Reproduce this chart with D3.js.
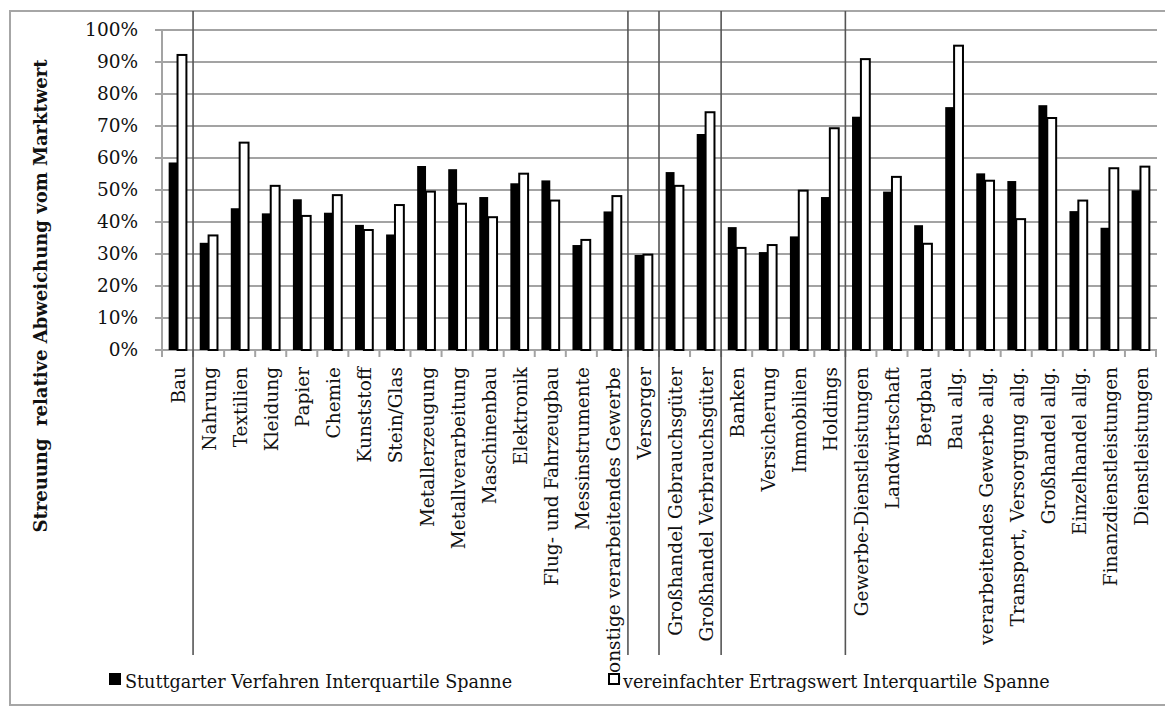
<!DOCTYPE html>
<html>
<head>
<meta charset="utf-8">
<script src="https://cdn.jsdelivr.net/npm/d3@7"></script>
<style>
  body { margin: 0; background: #fff; }
  svg { display: block; font-family: "DejaVu Serif", serif; }
</style>
</head>
<body>
<div id="container"></div>
<script>
// Branchen (Reihenfolge wie im Original)
const categories = [
  'Bau', 'Nahrung', 'Textilien', 'Kleidung', 'Papier', 'Chemie', 'Kunststoff',
  'Stein/Glas', 'Metallerzeugung', 'Metallverarbeitung', 'Maschinenbau',
  'Elektronik', 'Flug- und Fahrzeugbau', 'Messinstrumente',
  'sonstige verarbeitendes Gewerbe', 'Versorger', 'Großhandel Gebrauchsgüter',
  'Großhandel Verbrauchsgüter', 'Banken', 'Versicherung', 'Immobilien',
  'Holdings', 'Gewerbe-Dienstleistungen', 'Landwirtschaft', 'Bergbau',
  'Bau allg.', 'verarbeitendes Gewerbe allg.', 'Transport, Versorgung allg.',
  'Großhandel allg.', 'Einzelhandel allg.', 'Finanzdienstleistungen',
  'Dienstleistungen'
];

// Stuttgarter Verfahren Interquartile Spanne (in %)
const stuttgarter = [
  58.6, 33.5, 44.3, 42.7, 47.1, 42.9, 39.1, 36.1, 57.5, 56.5, 47.8, 52.1,
  53.0, 32.8, 43.3, 29.7, 55.6, 67.5, 38.4, 30.6, 35.5, 47.8, 72.9, 49.5,
  39.0, 75.9, 55.2, 52.8, 76.5, 43.4, 38.2, 49.9
];

// vereinfachter Ertragswert Interquartile Spanne (in %)
const ertragswert = [
  92.2, 35.8, 64.8, 51.3, 41.9, 48.4, 37.5, 45.3, 49.5, 45.7, 41.5, 55.1,
  46.7, 34.4, 48.1, 29.8, 51.3, 74.3, 31.9, 32.8, 49.8, 69.3, 90.9, 54.1,
  33.2, 95.1, 52.9, 40.9, 72.5, 46.7, 56.8, 57.3
];

// Trennlinien nach diesen Branchen
const groupEnds = ['Bau', 'sonstige verarbeitendes Gewerbe', 'Versorger',
  'Großhandel Verbrauchsgüter', 'Holdings'];

const yTicks = [0, 10, 20, 30, 40, 50, 60, 70, 80, 90, 100];

const seriesNames = [
  'Stuttgarter Verfahren Interquartile Spanne',
  'vereinfachter Ertragswert Interquartile Spanne'
];

const width = 1165;
const height = 706;
const mLeft = 162, mRight = 1156, mTop = 30, mBottom = 350;

const svg = d3.select('#container')
  .append('svg')
  .attr('width', width)
  .attr('height', height);

// Rahmen
svg.append('rect')
  .attr('x', 10).attr('y', 11)
  .attr('width', 1170).attr('height', 694)
  .attr('fill', 'none')
  .attr('stroke', '#a6a6a6')
  .attr('stroke-width', 2);

const x = d3.scaleBand().domain(categories).range([mLeft, mRight]);
const sub = d3.scaleBand().domain([0, 1]).range([0, x.bandwidth()])
  .paddingOuter(0.75);
const y = d3.scaleLinear().domain([0, 100]).range([mBottom, mTop]);

// Gitternetz
svg.append('g')
  .selectAll('line')
  .data(yTicks)
  .enter()
  .append('line')
  .attr('x1', mLeft - 7)
  .attr('x2', mRight + 1)
  .attr('y1', d => y(d))
  .attr('y2', d => y(d))
  .attr('stroke', '#a3a3a3')
  .attr('stroke-width', 2);

// y-Achse
svg.append('line')
  .attr('x1', mLeft).attr('x2', mLeft)
  .attr('y1', mTop).attr('y2', mBottom)
  .attr('stroke', '#a3a3a3')
  .attr('stroke-width', 2);

svg.append('g')
  .selectAll('text')
  .data(yTicks)
  .enter()
  .append('text')
  .attr('x', 138)
  .attr('y', d => y(d))
  .attr('dy', '0.35em')
  .attr('text-anchor', 'end')
  .attr('font-size', '18.5px')
  .attr('fill', '#111')
  .text(d => d + '%');

// x-Ticks an den Kategoriegrenzen
const bounds = categories.map(c => x(c)).concat([mRight]);
svg.append('g')
  .selectAll('line')
  .data(bounds)
  .enter()
  .append('line')
  .attr('x1', d => d).attr('x2', d => d)
  .attr('y1', mBottom).attr('y2', mBottom + 7)
  .attr('stroke', '#a3a3a3')
  .attr('stroke-width', 2);

// Balken
const g = svg.selectAll('.cat')
  .data(categories)
  .enter()
  .append('g')
  .attr('class', 'cat')
  .attr('transform', d => `translate(${x(d)},0)`);

g.append('rect')
  .attr('x', sub(0))
  .attr('width', sub.bandwidth())
  .attr('y', (d, i) => y(stuttgarter[i]))
  .attr('height', (d, i) => mBottom - y(stuttgarter[i]))
  .attr('fill', '#000');

g.append('rect')
  .attr('x', sub(1))
  .attr('width', sub.bandwidth())
  .attr('y', (d, i) => y(ertragswert[i]))
  .attr('height', (d, i) => mBottom - y(ertragswert[i]))
  .attr('fill', '#fff')
  .attr('stroke', '#000')
  .attr('stroke-width', 2);

// Kategoriebeschriftung
g.append('text')
  .attr('transform', `translate(${x.bandwidth() / 2 + 1},367) rotate(-90)`)
  .attr('dy', '0.35em')
  .attr('text-anchor', 'end')
  .attr('font-size', '18.5px')
  .attr('fill', '#111')
  .text(d => d);

// Gruppentrenner
svg.append('g')
  .selectAll('line')
  .data(groupEnds)
  .enter()
  .append('line')
  .attr('x1', d => x(d) + x.bandwidth())
  .attr('x2', d => x(d) + x.bandwidth())
  .attr('y1', 11)
  .attr('y2', 655)
  .attr('stroke', '#555')
  .attr('stroke-width', 1.6);

// Achsentitel
svg.append('text')
  .attr('transform', 'translate(47,296) rotate(-90)')
  .attr('text-anchor', 'middle')
  .attr('font-size', '18px')
  .attr('font-weight', 'bold')
  .attr('fill', '#111')
  .style('white-space', 'pre')
  .text('Streuung  relative Abweichung vom Marktwert');

// Legende
const legendX = [109, 608];
const lg = svg.selectAll('.legend')
  .data(seriesNames)
  .enter()
  .append('g')
  .attr('class', 'legend')
  .attr('transform', (d, i) => `translate(${legendX[i]},673)`);

lg.append('rect')
  .attr('x', (d, i) => i ? 1 : 0)
  .attr('y', (d, i) => i ? 1 : 0)
  .attr('width', (d, i) => i ? 10 : 12)
  .attr('height', (d, i) => i ? 10 : 12)
  .attr('fill', (d, i) => i ? '#fff' : '#000')
  .attr('stroke', (d, i) => i ? '#000' : 'none')
  .attr('stroke-width', 2);

lg.append('text')
  .attr('x', (d, i) => i ? 15 : 16)
  .attr('y', 15)
  .attr('font-size', '17.6px')
  .attr('fill', '#111')
  .text(d => d);
</script>
</body>
</html>
